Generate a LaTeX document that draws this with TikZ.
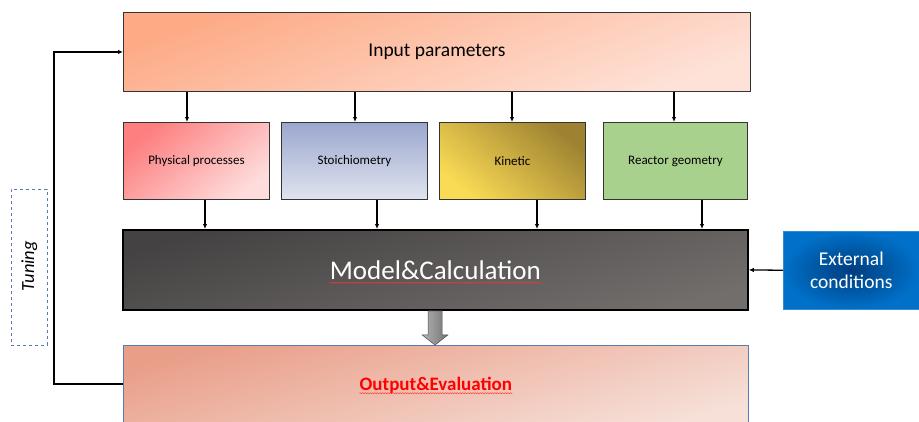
\documentclass[tikz,border=0pt]{standalone}
\usepackage{fontspec}
\setmainfont{Carlito}
\usetikzlibrary{arrows.meta,decorations.pathmorphing,calc}
\definecolor{inA}{HTML}{FDAA85}\definecolor{inB}{HTML}{FEE2D8}
\definecolor{phA}{HTML}{FD7F7F}\definecolor{phB}{HTML}{FEDCDC}
\definecolor{stA}{HTML}{9BA7CE}\definecolor{stB}{HTML}{E0E4EF}
\definecolor{kiA}{HTML}{FADB55}\definecolor{kiB}{HTML}{9E8231}
\definecolor{reA}{HTML}{A9D18E}
\definecolor{moA}{HTML}{444242}\definecolor{moB}{HTML}{726E6C}
\definecolor{exA}{HTML}{0070C8}\definecolor{exB}{HTML}{003D7E}
\definecolor{ouA}{HTML}{E99E88}\definecolor{ouB}{HTML}{F6E0D8}
\definecolor{bord}{HTML}{333333}
\definecolor{tun}{HTML}{5A7AB4}
\begin{document}
\begin{tikzpicture}[x=1pt,y=-1pt,
  box/.style={draw=bord,line width=0.9pt,inner sep=0pt,anchor=north west},
  sub/.style={box,minimum width=146pt,minimum height=77pt,font=\fontsize{13}{15}\selectfont},
  conn/.style={line width=1.3pt,-{Latex[length=5pt,width=4.5pt]}},
  wavy/.style={red!80!white,line width=0.4pt,decorate,decoration={snake,amplitude=0.6pt,segment length=2.5pt}}]
\useasboundingbox (0,0) rectangle (919,421);
\clip (0,0) rectangle (919,421);
% input
\node[box,minimum width=627pt,minimum height=79pt,top color=inA,bottom color=inB,shading angle=20,
  font=\fontsize{19.5}{23}\selectfont] (inp) at (123,12) {Input parameters};
% sub boxes
\node[sub,top color=phA,bottom color=phB,shading angle=40] (phy) at (123,122) {Physical processes};
\node[sub,top color=stA,bottom color=stB] (sto) at (281,122) {Stoichiometry};
\node[sub,top color=kiB,bottom color=kiA,shading angle=-40] (kin) at (439,122) {Kinetic};
\node[sub,fill=reA,minimum width=144pt] (rea) at (603,122) {Reactor geometry};
% model
\node[box,draw=black,line width=1.8pt,minimum width=625pt,minimum height=80pt,top color=moA,bottom color=moB,shading angle=15] (mod) at (122,229) {};
\node[inner sep=0pt,text=white,font=\fontsize{27}{32}\selectfont] (modt) at (mod.center) {Model\&Calculation};
\draw[wavy] ($(modt.base west)+(0,3.5)$) -- ($(modt.base east)+(0,3.5)$);
% external
\node[anchor=north west,inner sep=0pt,minimum width=136pt,minimum height=78pt,inner color=exB,outer color=exA,draw=exA!80!white,line width=0.5pt] (ext) at (783,231) {};
\node[text=white,align=center,font=\fontsize{19.5}{23}\selectfont] (extt) at (ext.center) {External\\conditions};
% output
\node[anchor=north west,inner sep=0pt,minimum width=625pt,minimum height=80pt,top color=ouA,bottom color=ouB,shading angle=15,draw=tun,line width=0.7pt] (out) at (123,345) {};
\node[inner sep=0pt,text=red,font=\bfseries\fontsize{19}{22}\selectfont] (outt) at ($(out.north)+(0,40)$) {Output\&Evaluation};
\draw[wavy] ($(outt.base west)+(0,3)$) -- ($(outt.base east)+(0,3)$);
% tuning
\node[anchor=north west,draw=tun,dashed,line width=0.7pt,minimum width=36pt,minimum height=156pt,inner sep=0pt] (tunb) at (11,189) {};
\node[rotate=90,font=\itshape\fontsize{18.5}{22}\selectfont] (tunt) at ($(tunb.center)+(0,-1)$) {Tuning};
% connectors input -> subs
\foreach \xx/\n in {187/phy,355/sto,512/kin,674/rea}{
  \draw[conn] (\xx,0 |- inp.south) -- (\xx,0 |- \n.north);
}
\foreach \xx/\n in {205/phy,377/sto,537/kin,702/rea}{
  \draw[conn] (\xx,0 |- \n.south) -- (\xx,0 |- mod.north);
}
\draw[conn] (ext.west) -- (mod.east);
% feedback
\coordinate (fb) at (54,384);
\draw[conn] (out.west |- fb) -- (fb) |- (inp.west);
% big arrow
\coordinate (at) at (435,0);
\shade[left color=gray!60,right color=gray!90!black,draw=black!70,line width=0.5pt]
  ($(at |- mod.south)+(-7,0)$) -- ($(at |- mod.south)+(7,0)$) -- ($(at |- mod.south)+(7,24)$) -- ($(at |- mod.south)+(13,24)$)
  -- (at |- out.north) -- ($(at |- mod.south)+(-13,24)$) -- ($(at |- mod.south)+(-7,24)$) -- cycle;
\end{tikzpicture}
\end{document}
